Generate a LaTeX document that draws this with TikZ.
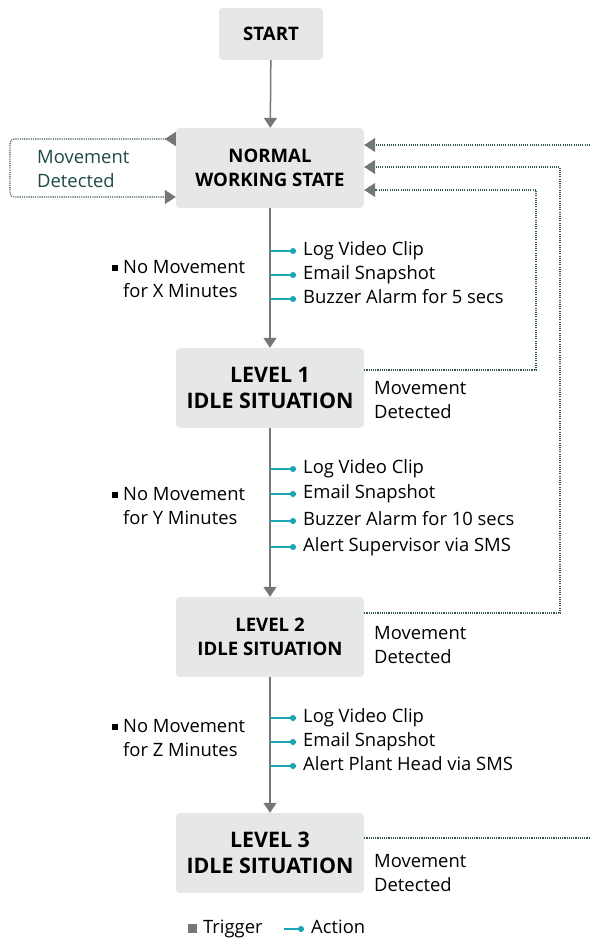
\documentclass[tikz,border=0pt]{standalone}
\usepackage{fontspec}
\setmainfont{Open Sans}
\usetikzlibrary{arrows.meta}

\newlength{\du}
\setlength{\du}{1pt}

\definecolor{boxfill}{RGB}{230,231,232}
\definecolor{flowgray}{RGB}{118,118,118}
\definecolor{actcolor}{RGB}{26,166,180}
\definecolor{loopcolor}{RGB}{47,86,82}
\definecolor{looptext}{RGB}{30,74,70}

\tikzset{
  statebox/.style={fill=boxfill, rounded corners=4\du, minimum width=188\du, minimum height=80\du, inner sep=0pt, align=center, font=\bfseries\fontsize{18.6}{24}\selectfont},
  bigstate/.style={statebox, font=\bfseries\fontsize{21.4}{26}\selectfont},
  flow/.style={draw=flowgray, line width=1.5\du, -{Triangle[width=13pt,length=10pt]}},
  feedback/.style={draw=loopcolor, line width=1.1\du, dash pattern=on 1.1\du off 1.1\du, -{Triangle[width=14pt,length=11pt,color=flowgray]}},
  act/.style={draw=actcolor, line width=1.4\du, -{Circle[length=6pt,width=6pt]}, shorten >=7\du},
  txt/.style={anchor=west, inner sep=0pt, align=left, font=\fontsize{18.4}{24}\selectfont},
  acttxt/.style={anchor=west, inner sep=0pt, text height=14\du, text depth=4.5\du, font=\fontsize{18.4}{24}\selectfont},
}

\newcommand{\trigbullet}{\makebox[0pt][r]{\rule[2\du]{6\du}{6\du}\hspace{5\du}}}

\begin{document}
\begin{tikzpicture}
\pgftransformxscale{1.000000}
\pgftransformyscale{-1.000000}
\useasboundingbox (0\du,0\du) rectangle (590\du,941\du);

% states
\node[statebox, minimum width=104\du, minimum height=52\du] (start) at (271\du,34\du) {START};
\node[statebox] (normal) at (270\du,168\du) {NORMAL\\WORKING STATE};
\node[bigstate] (lvl1) at (270\du,388\du) {LEVEL 1\\IDLE SITUATION};
\node[statebox] (lvl2) at (270\du,637\du) {LEVEL 2\\IDLE SITUATION};
\node[bigstate] (lvl3) at (270\du,853\du) {LEVEL 3\\IDLE SITUATION};

\draw[flow] (start) -- (normal);
\draw[flow] (normal) -- (lvl1);
\draw[flow] (lvl1) -- (lvl2);
\draw[flow] (lvl2) -- (lvl3);

% self loop on normal state
\coordinate (selftop) at (10\du,139\du);
\coordinate (selfbot) at (10\du,197\du);
\draw[feedback, rounded corners=4\du, {Triangle[reversed,width=14pt,length=11pt,color=flowgray]}-{Triangle[width=14pt,length=11pt,color=flowgray]}] (normal.west |- selftop) -- (selftop) -- (selfbot) -- (normal.west |- selfbot);
\node[txt, text=looptext] (selflabel) at (37\du,169\du) {Movement\\Detected};

% movement detected, back to normal
\coordinate (fb1) at (536\du,370\du);
\coordinate (fb1top) at (536\du,190\du);
\draw[feedback] (lvl1.east |- fb1) -- (fb1) -- (fb1top) -- (normal.east |- fb1top);
\coordinate (fb2) at (560\du,613\du);
\coordinate (fb2top) at (560\du,167\du);
\draw[feedback] (lvl2.east |- fb2) -- (fb2) -- (fb2top) -- (normal.east |- fb2top);
\coordinate (fb3) at (590\du,838\du);
\coordinate (fb3top) at (590\du,145\du);
\draw[feedback, -] (lvl3.east |- fb3) -- (fb3);
\draw[feedback] (fb3top) -- (normal.east |- fb3top);

\node[txt] (md1) at (374\du,400\du) {Movement\\Detected};
\node[txt] (md2) at (374\du,645\du) {Movement\\Detected};
\node[txt] (md3) at (374\du,873\du) {Movement\\Detected};

% triggers
\node[txt] (trig1) at (123\du,279\du) {\trigbullet No Movement\\for X Minutes};
\node[txt] (trig2) at (123\du,506\du) {\trigbullet No Movement\\for Y Minutes};
\node[txt] (trig3) at (123\du,738\du) {\trigbullet No Movement\\for Z Minutes};

% actions, level 1
\coordinate (c11) at (270\du,251\du);
\coordinate (c12) at (270\du,275\du);
\coordinate (c13) at (270\du,299\du);
\node[acttxt] (a11) at (303\du,251\du) {Log Video Clip};
\node[acttxt] (a12) at (303\du,275\du) {Email Snapshot};
\node[acttxt] (a13) at (303\du,299\du) {Buzzer Alarm for 5 secs};
\draw[act] (c11) -- (a11.west);
\draw[act] (c12) -- (a12.west);
\draw[act] (c13) -- (a13.west);

% actions, level 2
\coordinate (c21) at (270\du,469\du);
\coordinate (c22) at (270\du,494\du);
\coordinate (c23) at (270\du,521\du);
\coordinate (c24) at (270\du,547\du);
\node[acttxt] (a21) at (303\du,469\du) {Log Video Clip};
\node[acttxt] (a22) at (303\du,494\du) {Email Snapshot};
\node[acttxt] (a23) at (303\du,521\du) {Buzzer Alarm for 10 secs};
\node[acttxt] (a24) at (303\du,547\du) {Alert Supervisor via SMS};
\draw[act] (c21) -- (a21.west);
\draw[act] (c22) -- (a22.west);
\draw[act] (c23) -- (a23.west);
\draw[act] (c24) -- (a24.west);

% actions, level 3
\coordinate (c31) at (270\du,718\du);
\coordinate (c32) at (270\du,742\du);
\coordinate (c33) at (270\du,766\du);
\node[acttxt] (a31) at (303\du,718\du) {Log Video Clip};
\node[acttxt] (a32) at (303\du,742\du) {Email Snapshot};
\node[acttxt] (a33) at (303\du,766\du) {Alert Plant Head via SMS};
\draw[act] (c31) -- (a31.west);
\draw[act] (c32) -- (a32.west);
\draw[act] (c33) -- (a33.west);

% legend
\node[acttxt] (lgtrig) at (203\du,929\du) {\makebox[0pt][r]{\textcolor{flowgray}{\rule[0.5\du]{9\du}{9\du}}\hspace{6\du}}Trigger};
\coordinate (lgline) at (284\du,929\du);
\node[acttxt] (lgact) at (311\du,929\du) {Action};
\draw[act] (lgline) -- (lgact.west);
\end{tikzpicture}
\end{document}
